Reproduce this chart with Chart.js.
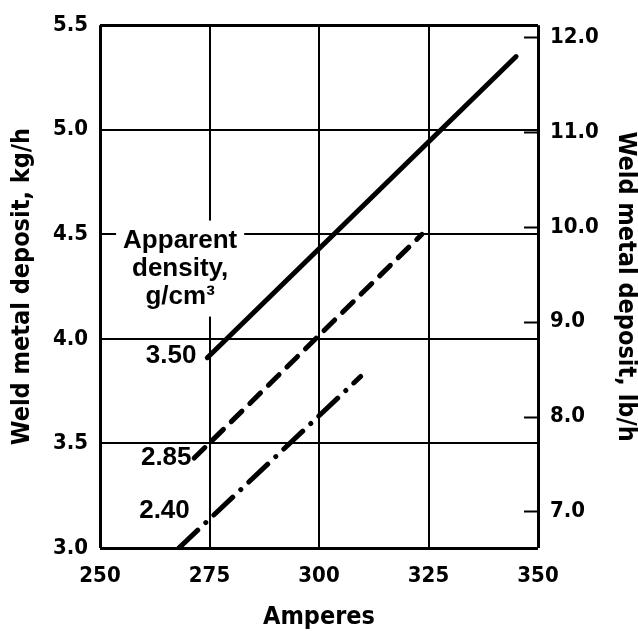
<!DOCTYPE html>
<html>
<head>
<meta charset="utf-8">
<script src="https://cdn.jsdelivr.net/npm/chart.js@4/dist/chart.umd.min.js"></script>
<style>
  html, body { margin: 0; padding: 0; background: #fff; }
  #wrap { width: 638px; height: 631px; }
</style>
</head>
<body>
<div id="wrap"><canvas id="depositChart" width="638" height="631"></canvas></div>
<script>
// deposition rate vs welding current, one line per apparent density
var ampsTicks = [250, 275, 300, 325, 350];
var kgTicks = [3.0, 3.5, 4.0, 4.5, 5.0, 5.5];
var lbTicks = [7, 8, 9, 10, 11, 12];

var densities = ['3.50', '2.85', '2.40'];
var amps350 = [274.5, 345];
var kg350 = [3.91, 5.35];
var amps285 = [271.5, 323.5];
var kg285 = [3.43, 4.50];
var amps240 = [268, 309.5];
var kg240 = [3.0, 3.82];

var KG_PER_LB = 0.45359237;

var tickFont = { family: "'Liberation Sans Narrow', 'DejaVu Sans Condensed', sans-serif", size: 22, weight: 'bold' };
var titleFont = { family: "'Liberation Sans Narrow', 'DejaVu Sans Condensed', sans-serif", size: 25, weight: 'bold', lineHeight: 1 };
var noteFont = "bold 26px 'Liberation Sans', Arial, sans-serif";

function points(xs, ys) {
    return xs.map(function (x, i) { return { x: x, y: ys[i] }; });
}

function setTicks(list) {
    return function (scale) {
        scale.ticks = list.map(function (v) { return { value: v }; });
    };
}

function gridWidth(ctx) {
    var first = ctx.scale.min, last = ctx.scale.max;
    var v = ctx.tick ? ctx.tick.value : null;
    return (v === first || v === last) ? 3 : 2;
}

// labels and inward tick marks placed through the chart scales
var notesPlugin = {
    id: 'notes',
    afterDatasetsDraw: function (chart) {
        var ctx = chart.ctx;
        var x = chart.scales.x, y = chart.scales.y, y1 = chart.scales.y1;
        var area = chart.chartArea;
        ctx.save();

        // short tick marks on the inside of the right edge
        ctx.strokeStyle = '#000';
        ctx.lineWidth = 2;
        lbTicks.forEach(function (v) {
            var py = Math.round(y1.getPixelForValue(v)) + 0.5;
            ctx.beginPath();
            ctx.moveTo(area.right - 14, py);
            ctx.lineTo(area.right, py);
            ctx.stroke();
        });

        // block title with a white backing over the grid
        ctx.font = noteFont;
        ctx.fillStyle = '#000';
        ctx.textAlign = 'center';
        ctx.textBaseline = 'middle';
        var lines = ['Apparent', 'density,', 'g/cm\u00b3'];
        var cx = x.getPixelForValue(268.3);
        var top = y.getPixelForValue(4.47);
        var step = 28;
        var w = 0;
        lines.forEach(function (t) { w = Math.max(w, ctx.measureText(t).width); });
        ctx.fillStyle = '#fff';
        ctx.fillRect(cx - w / 2 - 7, top - 20, w + 14, step * 2 + 40);
        ctx.fillStyle = '#000';
        lines.forEach(function (t, i) { ctx.fillText(t, cx, top + i * step); });

        // density value beside each line
        var anchors = [[272.0, 3.92], [270.9, 3.43], [270.5, 3.18]];
        ctx.textAlign = 'right';
        densities.forEach(function (d, i) {
            ctx.fillText(d, x.getPixelForValue(anchors[i][0]), y.getPixelForValue(anchors[i][1]));
        });
        ctx.restore();
    }
};

var ctx = document.getElementById('depositChart').getContext('2d');

var data = {
    datasets: [{
        label: densities[0],
        data: points(amps350, kg350),
        borderColor: '#000',
        borderWidth: 5,
        borderCapStyle: 'round'
    }, {
        label: densities[1],
        data: points(amps285, kg285),
        borderColor: '#000',
        borderWidth: 5,
        borderCapStyle: 'round',
        borderDash: [15, 11]
    }, {
        label: densities[2],
        data: points(amps240, kg240),
        borderColor: '#000',
        borderWidth: 5,
        borderCapStyle: 'round',
        borderDash: [26, 11, 0.1, 11]
    }]
};

var options = {
    responsive: false,
    animation: false,
    layout: { padding: { top: 22, left: 0, right: 0, bottom: 0 } },
    elements: { point: { radius: 0 }, line: { tension: 0 } },
    plugins: { legend: { display: false }, tooltip: { enabled: false } },
    scales: {
        x: {
            type: 'linear',
            min: 250,
            max: 350,
            afterBuildTicks: setTicks(ampsTicks),
            afterFit: function (s) { s.height = 83; },
            grid: { color: '#000', lineWidth: gridWidth, drawTicks: false },
            border: { display: false },
            ticks: { color: '#000', font: tickFont, padding: 15, maxRotation: 0 },
            title: { display: true, text: 'Amperes', color: '#000', font: titleFont, padding: { top: 0, bottom: 1 } }
        },
        y: {
            type: 'linear',
            position: 'left',
            min: 3.0,
            max: 5.5,
            afterBuildTicks: setTicks(kgTicks),
            afterFit: function (s) { s.width = 100; },
            grid: { color: '#000', lineWidth: gridWidth, drawTicks: false },
            border: { display: false },
            ticks: {
                color: '#000', font: tickFont, padding: 12,
                callback: function (v) { return v.toFixed(1); }
            },
            title: { display: true, text: 'Weld metal deposit, kg/h', color: '#000', font: titleFont, padding: { top: 10, bottom: 0 } }
        },
        y1: {
            type: 'linear',
            position: 'right',
            min: 3.0 / KG_PER_LB,
            max: 5.5 / KG_PER_LB,
            afterBuildTicks: setTicks(lbTicks),
            afterFit: function (s) { s.width = 100; },
            grid: { display: false, drawTicks: false },
            border: { display: false },
            ticks: {
                color: '#000', font: tickFont, padding: 12,
                callback: function (v) { return v.toFixed(1); }
            },
            title: { display: true, text: 'Weld metal deposit, lb/h', color: '#000', font: titleFont, padding: { top: 0, bottom: 0 } }
        }
    }
};

var depositChart = new Chart(ctx, {
    type: 'line',
    data: data,
    options: options,
    plugins: [notesPlugin]
});
</script>
</body>
</html>
